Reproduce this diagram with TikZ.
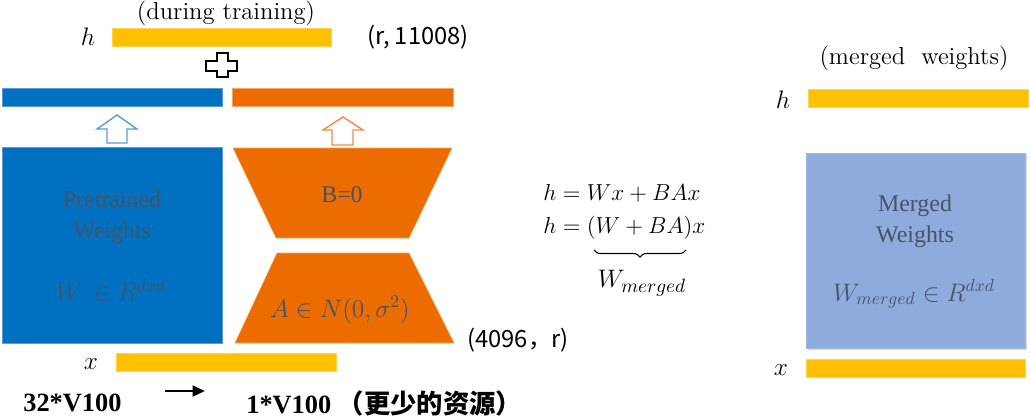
\documentclass[tikz,border=0pt]{standalone}
\usepackage{fontspec}
\newfontfamily\tnr{Liberation Serif}
\newfontfamily\cjk{Noto Sans CJK SC}
\usetikzlibrary{decorations.pathreplacing,arrows.meta}
\definecolor{lyellow}{HTML}{FFC000}
\definecolor{lblue}{HTML}{0070C0}
\definecolor{lorange}{HTML}{ED6C00}
\definecolor{lmerged}{HTML}{8FAADC}
\definecolor{ltext}{HTML}{44546A}
\definecolor{arrblue}{HTML}{5B9BD5}
\definecolor{arrorange}{HTML}{F4894A}
\begin{document}
\begin{tikzpicture}[x=0.02cm,y=-0.02cm,
  ybar/.style={fill=lyellow, draw=lyellow!70, line width=0.3pt},
  bbar/.style={fill=lblue, draw=arrblue, line width=0.3pt},
  obar/.style={fill=lorange, draw=lorange!60, line width=0.3pt},
  hollowarrow/.style={fill=white, line width=0.8pt, line join=miter},
  lbl/.style={inner sep=0pt, font=\fontsize{14}{16}\selectfont},
  cjklbl/.style={inner sep=0pt, font=\cjk\fontsize{13.5}{15}\selectfont},
  intext/.style={inner sep=0pt, text=ltext, font=\tnr\fontsize{13.6}{17.5}\selectfont, align=center},
  inmath/.style={inner sep=0pt, text=ltext, font=\fontsize{14}{16}\selectfont},
  eq/.style={inner sep=0pt, anchor=west, font=\fontsize{14.4}{16}\selectfont, scale=0.915, transform shape},
  boldlbl/.style={inner sep=0pt, font=\tnr\bfseries\fontsize{15}{17}\selectfont}
]
\useasboundingbox (0,0) rectangle (1030,419);

% ---------- left: during training ----------
\node[lbl] (during) at (226,13) {(during training)};
\node[lbl] (hl) at (88,37) {$h$};
\draw[ybar] (112,28) rectangle (331,46);
\node[cjklbl, anchor=west] (rdim) at (367,37) {(r,\ 11008)};

% plus sign
\draw[fill=white, line width=0.8pt, line join=miter]
  (217,53) -- (228,53) -- (228,61) -- (237,61) -- (237,71) -- (228,71) -- (228,77)
  -- (217,77) -- (217,71) -- (206,71) -- (206,61) -- (217,61) -- cycle;

% output bars
\draw[bbar] (2,88) rectangle (222,106);
\draw[obar] (232,88) rectangle (453,106);

% hollow arrows
\draw[hollowarrow, draw=arrblue] (107,143) -- (107,129) -- (97,129) -- (117,115)
  -- (137,129) -- (127,129) -- (127,143) -- cycle;
\draw[hollowarrow, draw=arrorange] (332,145) -- (332,130) -- (323,130) -- (343,117)
  -- (363,130) -- (353,130) -- (353,145) -- cycle;

% pretrained weights
\draw[bbar] (2,147) rectangle (222,343);
\node[intext] (pre) at (112,217) {Pretrained\\Weights};
\node[inmath] (wdd) at (111,290) {$W\,\in R^{dxd}$};

% B and A trapezoids
\draw[obar] (233,148) -- (452,148) -- (409,238) -- (276,238) -- cycle;
\node[intext] (bzero) at (342,195) {B=0};
\draw[obar] (277,253) -- (409,253) -- (454,343) -- (235,343) -- cycle;
\node[inmath] (adist) at (340,310) {$A\in N(0,\sigma^2)$};
\node[cjklbl, anchor=west] (adim) at (467,340) {(4096，r)};

% input x
\node[lbl] (xl) at (91,364) {$x$};
\draw[ybar] (116,353) rectangle (336,371);

% resources
\node[boldlbl, anchor=west] (gpu32) at (23,403) {32*V100};
\coordinate (arrs) at (165,391);
\coordinate (arre) at (205,391);
\draw[line width=1.4pt, -{Triangle[length=7pt,width=6pt]}] (arrs) -- (arre);
\node[boldlbl, anchor=west] (gpu1) at (246,403) {1*V100 {\cjk\bfseries （更少的资源）}};

% ---------- middle: equations ----------
\node[eq] (eq1) at (543,193) {$h = Wx + BAx$};
\node[eq] (eq2) at (543,228) {$h = (W + BA)x$};
\coordinate (bl) at (594,250);
\coordinate (br) at (686,250);
\draw[line width=0.6pt, decorate, decoration={brace, mirror, amplitude=4pt}] (bl) -- (br);
\node[inner sep=0pt, font=\fontsize{15}{17}\selectfont] (wm) at (642,283) {$W_{merged}$};

% ---------- right: merged weights ----------
\node[lbl] (merged) at (914,58) {(merged\ \ weights)};
\node[lbl] (hr) at (783,100) {$h$};
\draw[ybar] (808,89) rectangle (1028,107);
\fill[black!15] (808,155) rectangle (1027,350);
\draw[fill=lmerged, draw=lmerged!85, line width=0.3pt] (806,153) rectangle (1025,348);
\node[intext] (mw) at (915,221) {Merged\\Weights};
\node[inmath] (wmd) at (914,294) {$W_{merged}\in R^{dxd}$};
\node[lbl] (xr) at (781,370) {$x$};
\draw[ybar] (806,359) rectangle (1025,377);
\end{tikzpicture}
\end{document}
